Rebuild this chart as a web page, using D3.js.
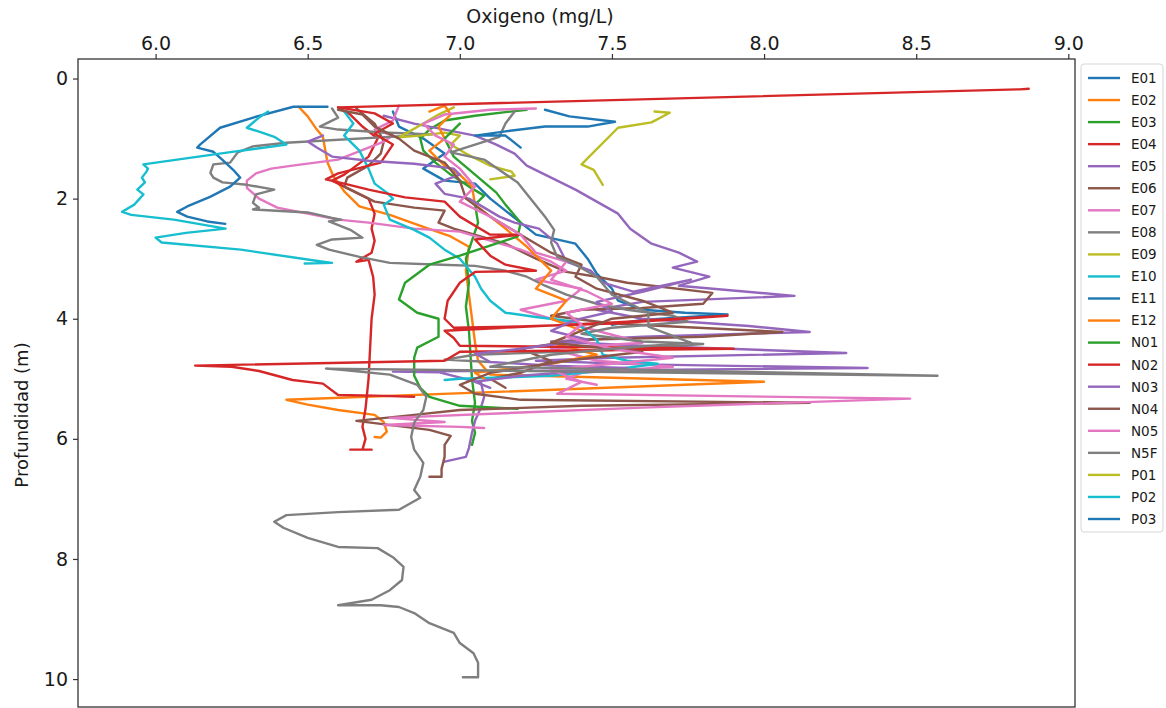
<!DOCTYPE html>
<html>
<head>
<meta charset="utf-8">
<script src="https://cdn.jsdelivr.net/npm/d3@7"></script>
<style>
body { margin: 0; background: #fff; }
text { font-family: "DejaVu Sans", sans-serif; fill: #1a1a1a; }
</style>
</head>
<body>
<svg id="chart" width="1166" height="708"></svg>
<script>

// station names, in legend order
var stationNames = ["E01","E02","E03","E04","E05","E06","E07","E08","E09","E10","E11",
    "E12","N01","N02","N03","N04","N05","N5F","P01","P02","P03"];

// tick values
var xTicks = [6.0, 6.5, 7.0, 7.5, 8.0, 8.5, 9.0];
var yTicks = [0, 2, 4, 6, 8, 10];

// profiles: [oxygen mg/L, depth m]
var e01 = [[6.78,0.55],[6.8,0.8],[6.88,1.0],[6.95,1.25],[6.88,1.5],[6.95,1.7],[7.05,1.75],[7.1,2.0],[7.2,2.4],[7.25,2.6],[7.38,2.75],[7.42,3.0],[7.45,3.25],[7.5,3.5],[7.52,3.7],[7.6,3.85],[7.74,3.9],[7.88,3.93],[7.6,4.02],[7.5,4.1]];
var e02 = [[6.47,0.47],[6.5,0.63],[6.53,0.85],[6.55,0.97],[6.565,1.4],[6.585,1.63],[6.62,1.88],[6.67,2.13],[6.77,2.27],[6.88,2.47],[6.97,2.63],[7.03,2.8],[7.02,3.2],[7.03,3.6],[7.04,4.0],[7.05,4.4],[7.06,4.7],[7.1,4.93],[8.0,5.05],[6.43,5.35],[6.5,5.43],[6.6,5.52],[6.72,5.6],[6.75,5.72],[6.76,5.88],[6.74,5.98],[6.72,5.97]];
var e03 = [[7.22,0.52],[7.15,0.56],[7.05,0.62],[6.95,0.7],[6.9,0.85],[6.87,1.0],[6.88,1.2],[6.92,1.4],[6.97,1.6],[7.03,1.8],[7.08,1.95],[7.05,2.1],[7.06,2.4],[7.04,2.7],[7.02,3.0],[7.03,3.4],[7.02,3.8],[7.03,4.2],[7.035,4.6],[7.04,5.0],[7.05,5.4],[7.04,5.7],[7.05,5.9],[7.04,6.1]];
var e04 = [[6.6,0.48],[6.64,0.6],[6.68,0.8],[6.73,1.0],[6.7,1.3],[6.62,1.6],[6.58,1.7],[6.64,1.85],[6.7,2.0],[6.72,2.25],[6.71,2.5],[6.72,2.7],[6.71,2.9],[6.66,3.05],[6.7,3.02],[6.715,3.3],[6.72,3.6],[6.71,4.0],[6.705,4.5],[6.7,5.0],[6.69,5.5],[6.68,5.8],[6.69,6.0],[6.68,6.18],[6.64,6.18],[6.71,6.18]];
var e05 = [[6.75,0.62],[6.85,0.75],[6.95,0.85],[7.05,0.95],[7.12,1.1],[7.18,1.25],[7.22,1.45],[7.3,1.65],[7.38,1.85],[7.45,2.05],[7.52,2.25],[7.56,2.5],[7.63,2.75],[7.72,2.9],[7.78,3.05],[7.7,3.15],[7.82,3.3],[7.72,3.45],[8.1,3.62],[7.6,3.72],[7.45,3.85],[7.6,4.0],[7.95,4.12],[8.15,4.22],[7.6,4.3],[7.3,4.38],[7.6,4.45],[8.27,4.57],[7.5,4.65],[7.25,4.7],[7.6,4.76],[8.34,4.82],[7.4,4.86],[6.78,4.88],[6.93,4.89],[7.07,5.07],[7.08,5.3],[7.07,5.47],[7.05,5.7],[7.04,5.9],[7.03,6.15],[7.02,6.3],[6.95,6.38]];
var e06 = [[6.66,0.5],[6.72,0.75],[6.75,1.05],[6.74,1.25],[6.7,1.45],[6.63,1.65],[6.62,1.8],[6.72,2.05],[6.85,2.15],[6.95,2.2],[6.93,2.4],[6.98,2.5],[7.15,2.75],[7.25,3.0],[7.35,3.22],[7.45,3.3],[7.55,3.4],[7.83,3.57],[7.8,3.75],[7.6,3.82],[7.4,3.85],[7.3,3.95],[7.5,4.08],[8.06,4.22],[7.8,4.3],[7.4,4.35],[7.2,4.5],[7.3,4.7],[7.2,4.9],[7.1,5.0],[7.15,5.15]];
var e07 = [[6.8,0.45],[6.78,0.7],[6.72,0.85],[6.78,0.95],[6.75,1.05],[6.6,1.35],[6.45,1.45],[6.38,1.5],[6.33,1.58],[6.3,1.7],[6.3,1.82],[6.34,2.0],[6.4,2.15],[6.5,2.25],[6.6,2.35],[6.7,2.4],[6.85,2.5],[7.0,2.55],[7.1,2.7],[7.2,2.85],[7.3,3.05],[7.35,3.2],[7.25,3.35],[7.4,3.5],[7.35,3.7],[7.2,3.85],[7.3,4.0],[7.45,4.2],[7.6,4.4],[7.3,4.5],[7.45,4.7],[7.7,4.8],[7.4,4.9],[7.35,5.0],[7.45,5.1]];
var e08 = [[6.58,0.5],[6.6,0.65],[6.54,0.8],[6.6,0.85],[6.75,0.9],[6.91,0.93],[6.43,1.07],[6.32,1.13],[6.27,1.23],[6.245,1.4],[6.19,1.43],[6.18,1.57],[6.19,1.65],[6.22,1.73],[6.3,1.77],[6.39,1.85],[6.33,1.93],[6.32,2.07],[6.34,2.15],[6.32,2.18],[6.5,2.23],[6.58,2.32],[6.61,2.35],[6.57,2.38],[6.64,2.52],[6.68,2.65],[6.58,2.68],[6.53,2.77],[6.57,2.85],[6.67,2.97],[6.77,3.07],[6.94,3.1],[7.05,3.12],[7.15,3.2],[7.22,3.3],[7.28,3.45],[7.35,3.6],[7.45,3.75],[7.55,3.85],[7.7,3.95],[7.75,4.05],[7.5,4.15],[7.4,4.25],[7.6,4.38],[7.8,4.42],[7.5,4.52],[7.05,4.6],[6.95,4.68],[7.1,4.72]];
var e09 = [[6.98,0.48],[6.93,0.6],[6.88,0.75],[6.8,0.98],[6.87,0.95],[6.95,0.9],[7.0,0.95],[6.97,1.1],[7.02,1.25],[7.1,1.45],[7.17,1.55],[7.18,1.62],[7.1,1.68]];
var e10 = [[6.62,0.55],[6.65,0.75],[6.62,0.95],[6.67,1.2],[6.7,1.5],[6.72,1.75],[6.76,1.9],[6.78,2.0],[6.75,2.1],[6.77,2.35],[6.85,2.52],[6.9,2.65],[6.95,2.85],[7.0,3.0],[7.05,3.3],[7.07,3.5],[7.1,3.7],[7.15,3.9],[7.25,3.97],[7.38,4.05],[7.45,4.35],[7.47,4.6],[7.55,4.7],[7.65,4.75],[7.5,4.85],[7.3,4.95],[7.0,5.0],[6.95,5.02]];
var e11 = [[6.565,0.47],[6.453,0.47],[6.321,0.65],[6.212,0.82],[6.146,1.1],[6.137,1.15],[6.19,1.22],[6.219,1.35],[6.255,1.52],[6.278,1.65],[6.245,1.8],[6.179,1.97],[6.104,2.13],[6.071,2.22],[6.104,2.3],[6.17,2.38],[6.229,2.42]];
var e12 = [[6.9,0.55],[6.95,0.45],[6.97,0.6],[6.93,0.8],[6.95,1.0],[6.9,1.2],[6.95,1.45],[7.0,1.6],[7.04,1.8],[7.05,2.1],[7.15,2.5],[7.22,2.8],[7.3,3.2],[7.25,3.5],[7.35,3.7],[7.3,4.0],[7.4,4.2],[7.3,4.4],[7.45,4.6],[7.3,4.75],[7.05,4.9],[7.08,5.0]];
var n01 = [[7.0,0.75],[6.95,1.0],[6.98,1.3],[7.05,1.6],[7.12,1.9],[7.15,2.1],[7.2,2.4],[7.19,2.63],[7.0,2.95],[6.9,3.1],[6.82,3.4],[6.8,3.68],[6.86,3.9],[6.93,4.0],[6.93,4.3],[6.86,4.48],[6.85,4.65],[6.85,4.95],[6.87,5.15],[6.9,5.3],[7.0,5.45],[7.19,5.5]];
var n02 = [[8.87,0.17],[8.84,0.18],[6.6,0.48],[6.72,0.58],[6.78,0.75],[6.72,0.92],[6.78,1.1],[6.74,1.4],[6.6,1.58],[6.56,1.68],[6.62,1.75],[6.7,1.85],[6.82,1.98],[6.95,2.05],[7.0,2.3],[7.1,2.6],[7.2,2.6],[7.05,2.68],[7.1,2.95],[7.15,3.1],[7.25,3.2],[7.05,3.22],[7.0,3.4],[6.96,3.7],[6.95,4.0],[6.98,4.15],[7.2,4.13],[7.5,4.08],[7.88,3.95],[7.55,4.05],[6.95,4.2],[6.98,4.32],[7.0,4.45],[7.9,4.5],[7.0,4.55],[6.95,4.7],[6.13,4.78],[6.25,4.8],[6.34,4.87],[6.45,5.02],[6.55,5.08],[6.6,5.27],[6.72,5.28],[6.85,5.3]];
var n03 = [[6.55,0.95],[6.5,1.05],[6.53,1.15],[6.58,1.3],[6.7,1.37],[6.85,1.42],[6.98,1.5],[7.0,1.6],[6.92,1.75],[6.95,1.92],[7.03,2.0],[7.13,2.3],[7.18,2.4],[7.26,2.5],[7.32,2.75],[7.35,3.05],[7.43,3.2],[7.47,3.4],[7.57,3.55],[7.76,3.35],[7.6,3.55],[7.45,3.72],[7.5,3.88],[7.38,4.02],[7.3,4.2],[7.42,4.35],[7.2,4.5],[7.05,4.58],[7.1,4.72],[7.3,4.78],[7.55,4.82],[7.2,4.95],[7.05,5.05],[7.1,5.15]];
var n04 = [[6.6,0.52],[6.68,0.6],[6.72,0.8],[6.8,1.0],[6.85,1.2],[6.95,1.4],[7.0,1.7],[7.02,2.0],[7.1,2.3],[7.2,2.6],[7.3,2.9],[7.4,3.1],[7.38,3.3],[7.45,3.5],[7.6,3.7],[7.7,3.9],[7.5,4.0],[7.4,4.2],[7.3,4.4],[7.6,4.55],[7.35,4.7],[7.1,4.9],[7.0,5.1],[7.05,5.25],[7.2,5.35],[8.15,5.4],[7.4,5.45],[7.0,5.52],[6.85,5.6],[6.66,5.7],[6.9,5.85],[6.97,5.95],[6.95,6.1],[6.95,6.3],[6.94,6.5],[6.94,6.63],[6.9,6.63]];
var n05 = [[7.25,0.5],[7.1,0.52],[6.95,0.6],[6.88,0.75],[6.92,0.95],[6.98,1.1],[6.95,1.3],[7.0,1.5],[7.05,1.8],[7.0,2.05],[7.1,2.3],[7.2,2.6],[7.25,2.9],[7.35,3.05],[7.3,3.35],[7.42,3.55],[7.5,3.75],[7.35,3.9],[7.4,4.1],[7.35,4.3],[7.5,4.5],[7.7,4.65],[7.5,4.75],[7.3,4.85],[7.4,5.05],[7.32,5.25],[8.48,5.33],[7.6,5.48],[6.77,5.65],[6.95,5.72],[6.75,5.77],[7.0,5.8],[7.08,5.82]];
var n5f = [[7.18,0.55],[7.15,0.75],[7.13,0.97],[7.05,1.1],[6.97,1.23],[7.08,1.35],[7.19,1.73],[7.28,2.3],[7.31,2.52],[7.3,2.73],[7.32,2.97],[7.37,3.07],[7.45,3.3],[7.5,3.6],[7.62,3.9],[7.62,4.13],[7.76,4.4],[7.5,4.5],[7.3,4.6],[7.1,4.8],[8.57,4.95],[6.56,4.83],[6.61,4.85],[6.77,4.93],[6.86,5.1],[6.89,5.3],[6.88,5.52],[6.85,5.73],[6.84,5.97],[6.85,6.18],[6.88,6.4],[6.87,6.63],[6.85,6.85],[6.87,6.98],[6.8,7.18],[6.6,7.22],[6.43,7.27],[6.39,7.38],[6.42,7.48],[6.5,7.65],[6.6,7.8],[6.73,7.82],[6.78,7.97],[6.815,8.13],[6.81,8.35],[6.77,8.52],[6.71,8.68],[6.6,8.77],[6.74,8.77],[6.8,8.8],[6.85,8.9],[6.9,9.07],[6.98,9.23],[7.0,9.4],[7.045,9.57],[7.06,9.73],[7.06,9.97],[7.01,9.97]];
var p01 = [[7.64,0.55],[7.69,0.57],[7.63,0.73],[7.52,0.82],[7.4,1.43],[7.44,1.52],[7.47,1.77]];
var p02 = [[6.37,0.55],[6.34,0.65],[6.3,0.82],[6.35,0.9],[6.39,0.97],[6.43,1.1],[6.24,1.23],[5.96,1.43],[5.975,1.5],[5.97,1.55],[5.955,1.65],[5.965,1.73],[5.94,1.85],[5.96,1.93],[5.93,2.1],[5.89,2.22],[5.92,2.27],[6.06,2.35],[6.23,2.5],[6.1,2.57],[6.0,2.65],[6.02,2.73],[6.28,2.85],[6.55,3.05],[6.58,3.07],[6.49,3.08]];
var p03 = [[7.28,0.52],[7.36,0.63],[7.51,0.72],[7.42,0.8],[7.28,0.8],[7.15,0.88],[7.05,0.95],[7.15,0.95],[7.2,1.15]];

var profiles = [e01, e02, e03, e04, e05, e06, e07, e08, e09, e10, e11,
    e12, n01, n02, n03, n04, n05, n5f, p01, p02, p03];

// matplotlib tab10 cycle
var color = d3.scaleOrdinal()
    .domain(d3.range(10))
    .range(["#1f77b4","#ff7f0e","#2ca02c","#d62728","#9467bd",
            "#8c564b","#e377c2","#7f7f7f","#bcbd22","#17becf"]);

var svg = d3.select("#chart");

// plot box (window.top is read-only, so no bare "top" here)
var plotLeft = 78, plotRight = 1075, plotTop = 59, plotBottom = 707;

var x = d3.scaleLinear().domain([5.745, 9.022]).range([plotLeft, plotRight]);
var y = d3.scaleLinear().domain([-0.325, 10.465]).range([plotTop, plotBottom]);

var line = d3.line()
    .x(function(d) { return x(d[0]); })
    .y(function(d) { return y(d[1]); });

// profiles
svg.append("g")
    .selectAll("path")
    .data(profiles)
    .enter()
    .append("path")
    .attr("d", line)
    .attr("fill", "none")
    .attr("stroke", function(d, i) { return color(i % 10); })
    .attr("stroke-width", 2.4)
    .attr("stroke-linejoin", "round")
    .attr("stroke-linecap", "round");

// axes
var xAxis = svg.append("g")
    .attr("transform", "translate(0," + plotTop + ")")
    .call(d3.axisTop(x).tickValues(xTicks).tickFormat(d3.format(".1f")).tickSize(5).tickPadding(4));

var yAxis = svg.append("g")
    .attr("transform", "translate(" + plotLeft + ",0)")
    .call(d3.axisLeft(y).tickValues(yTicks).tickFormat(d3.format("d")).tickSize(5).tickPadding(5));

[xAxis, yAxis].forEach(function(a) {
    a.select(".domain").remove();
    a.selectAll("line").attr("stroke", "#333").attr("stroke-width", 1.2);
    a.selectAll("text")
        .style("font-size", "19px")
        .style("font-family", "'DejaVu Sans', sans-serif")
        .attr("fill", "#1a1a1a");
});

// frame
svg.append("rect")
    .attr("x", plotLeft)
    .attr("y", plotTop)
    .attr("width", plotRight - plotLeft)
    .attr("height", plotBottom - plotTop)
    .attr("fill", "none")
    .attr("stroke", "#333")
    .attr("stroke-width", 1.3);

// axis labels
svg.append("text")
    .attr("x", 540)
    .attr("y", 23)
    .attr("text-anchor", "middle")
    .style("font-size", "19px")
    .text("Oxigeno (mg/L)");

svg.append("text")
    .attr("transform", "translate(28,415) rotate(-90)")
    .attr("text-anchor", "middle")
    .style("font-size", "18px")
    .text("Profundidad (m)");

// legend
var legend = svg.append("g");
var rowH = 22.05, firstRow = 78;

legend.append("rect")
    .attr("x", 1081)
    .attr("y", 64)
    .attr("width", 82)
    .attr("height", 468)
    .attr("rx", 3)
    .attr("fill", "#fff")
    .attr("stroke", "#d6d6d6");

var rows = legend.selectAll("g.row")
    .data(stationNames)
    .enter()
    .append("g")
    .attr("class", "row")
    .attr("transform", function(d, i) { return "translate(0," + (firstRow + i * rowH) + ")"; });

rows.append("line")
    .attr("x1", 1088).attr("x2", 1120)
    .attr("y1", 0).attr("y2", 0)
    .attr("stroke", function(d, i) { return color(i % 10); })
    .attr("stroke-width", 2.4);

rows.append("text")
    .attr("x", 1131)
    .attr("y", 0)
    .attr("dy", "0.36em")
    .style("font-size", "13.5px")
    .text(function(d) { return d; });

</script>
</body>
</html>
